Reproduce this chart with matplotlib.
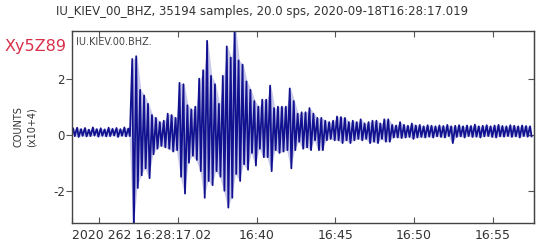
import matplotlib
matplotlib.use('Agg')
import matplotlib.pyplot as plt
import numpy as np

# trace envelope, one pair per 0.25 min bin (units of 1e4 counts)
bin_minutes = 0.25
upper = [0.22, 0.25, 0.20, 0.24, 0.18, 0.26, 0.20, 0.23, 0.19, 0.25,
         0.21, 0.24, 0.20, 0.26, 0.22, 2.70, 2.80, 1.60, 1.40, 1.10,
         0.70, 0.60, 0.45, 0.50, 0.75, 0.70, 0.60, 1.85, 1.80, 1.05,
         0.90, 1.00, 2.00, 2.30, 3.35, 2.10, 1.80, 1.10, 2.10, 3.15,
         2.75, 3.90, 2.65, 2.50, 1.90, 1.60, 1.20, 1.00, 1.25, 1.25,
         1.75, 0.95, 1.00, 1.00, 1.00, 1.65, 1.20, 0.75, 0.80, 0.80,
         0.95, 0.75, 0.60, 0.60, 0.50, 0.45, 0.50, 0.65, 0.63, 0.60,
         0.45, 0.50, 0.45, 0.55, 0.40, 0.45, 0.50, 0.50, 0.40, 0.55,
         0.55, 0.35, 0.33, 0.45, 0.35, 0.32, 0.40, 0.33, 0.35, 0.30,
         0.34, 0.32, 0.30, 0.33, 0.31, 0.35, 0.30, 0.32, 0.34, 0.30,
         0.33, 0.31, 0.36, 0.30, 0.32, 0.34, 0.30, 0.33, 0.35, 0.31,
         0.30, 0.34, 0.32, 0.30, 0.33, 0.31, 0.30]
lower = [-0.05, -0.08, -0.04, -0.06, -0.05, -0.03, -0.07, -0.04, -0.06, -0.05,
         -0.03, -0.08, -0.04, -0.06, -0.05, -3.40, -1.90, -1.45, -1.20, -1.55,
         -0.70, -0.50, -0.40, -0.45, -0.50, -0.60, -0.55, -1.50, -2.10, -1.00,
         -0.75, -0.90, -1.30, -2.25, -1.65, -1.80, -1.30, -1.50, -2.00, -2.60,
         -2.25, -1.40, -1.65, -1.05, -1.25, -0.65, -1.10, -0.50, -0.80, -0.80,
         -1.30, -0.55, -0.65, -0.60, -0.55, -1.20, -0.55, -0.25, -0.50, -0.45,
         -0.55, -0.20, -0.55, -0.55, -0.20, -0.15, -0.20, -0.20, -0.30, -0.20,
         -0.30, -0.20, -0.15, -0.20, -0.15, -0.30, -0.25, -0.30, -0.15, -0.25,
         -0.25, -0.10, -0.10, -0.12, -0.10, -0.08, -0.15, -0.10, -0.08, -0.10,
         -0.07, -0.10, -0.06, -0.08, -0.10, -0.05, -0.30, -0.08, -0.06, -0.10,
         -0.05, -0.08, -0.07, -0.10, -0.06, -0.05, -0.08, -0.10, -0.06, -0.07,
         -0.05, -0.08, -0.06, -0.10, -0.05, -0.07, -0.06]

n_samples = 35194
sps = 20.0
tick_minutes = [0.0, 1.7164, 6.7164, 11.7164, 16.7164, 21.7164, 26.7164]
tick_labels = ['2020 262 16:28:17.02', '', '', '16:40', '16:45', '16:50', '16:55']
y_ticks = [-2, 0, 2]
y_tick_labels = ['-2', '0', '2']

fig = plt.figure(figsize=(5.52, 2.52), dpi=100)
ax = fig.add_axes([72 / 552, 29 / 252, 462 / 552, 192 / 252])

# zigzag between the upper and lower envelope of each bin, band lightly filled
t0 = np.arange(len(upper)) * bin_minutes
t = np.column_stack([t0 + bin_minutes * 0.3, t0 + bin_minutes * 0.7]).ravel()
y = np.column_stack([upper, lower]).ravel()
tc = t0 + bin_minutes * 0.5
ax.fill_between(tc, lower, upper, color='#2a2ab0', lw=0, alpha=0.25)
ax.plot(t, y, color='#121290', lw=1.3)

ax.set_xlim(0, (n_samples - 1) / sps / 60)
ax.set_ylim(-3.15, 3.7)

ax.set_xticks(tick_minutes)
ax.set_xticklabels(tick_labels, fontsize=9, color='#333333')
ax.get_xticklabels()[0].set_horizontalalignment('left')
ax.tick_params(axis='x', direction='in', top=True, length=4, color='#555555', pad=4)

ax.set_yticks(y_ticks)
ax.set_yticklabels(y_tick_labels, fontsize=8.5, color='#333333')
ax.tick_params(axis='y', direction='out', length=4, color='#555555', pad=1)
right = ax.secondary_yaxis('right')
right.set_yticks(y_ticks)
right.set_yticklabels([])
right.tick_params(direction='in', length=4, color='#555555')
right.spines['right'].set_color('#444444')

for s in ax.spines.values():
    s.set_color('#444444')
    s.set_linewidth(1.0)

ax.text(0.008, 0.97, 'IU.KIEV.00.BHZ.', transform=ax.transAxes, fontsize=7,
        color='#444444', ha='left', va='top')

fig.text(262 / 552, 1 - 11 / 252, 'IU_KIEV_00_BHZ, 35194 samples, 20.0 sps, 2020-09-18T16:28:17.019',
         ha='center', va='center', fontsize=8.5, color='#333333')
fig.text(5 / 552, 1 - 46 / 252, 'Xy5Z89', ha='left', va='center', fontsize=11.5, color='#d9304a')
fig.text(25 / 552, 1 - 127 / 252, 'COUNTS\n(x10+4)', rotation=90, ha='center', va='center',
         fontsize=7, color='#333333', linespacing=1.3, multialignment='center')

fig.savefig('out.png', dpi=100)
